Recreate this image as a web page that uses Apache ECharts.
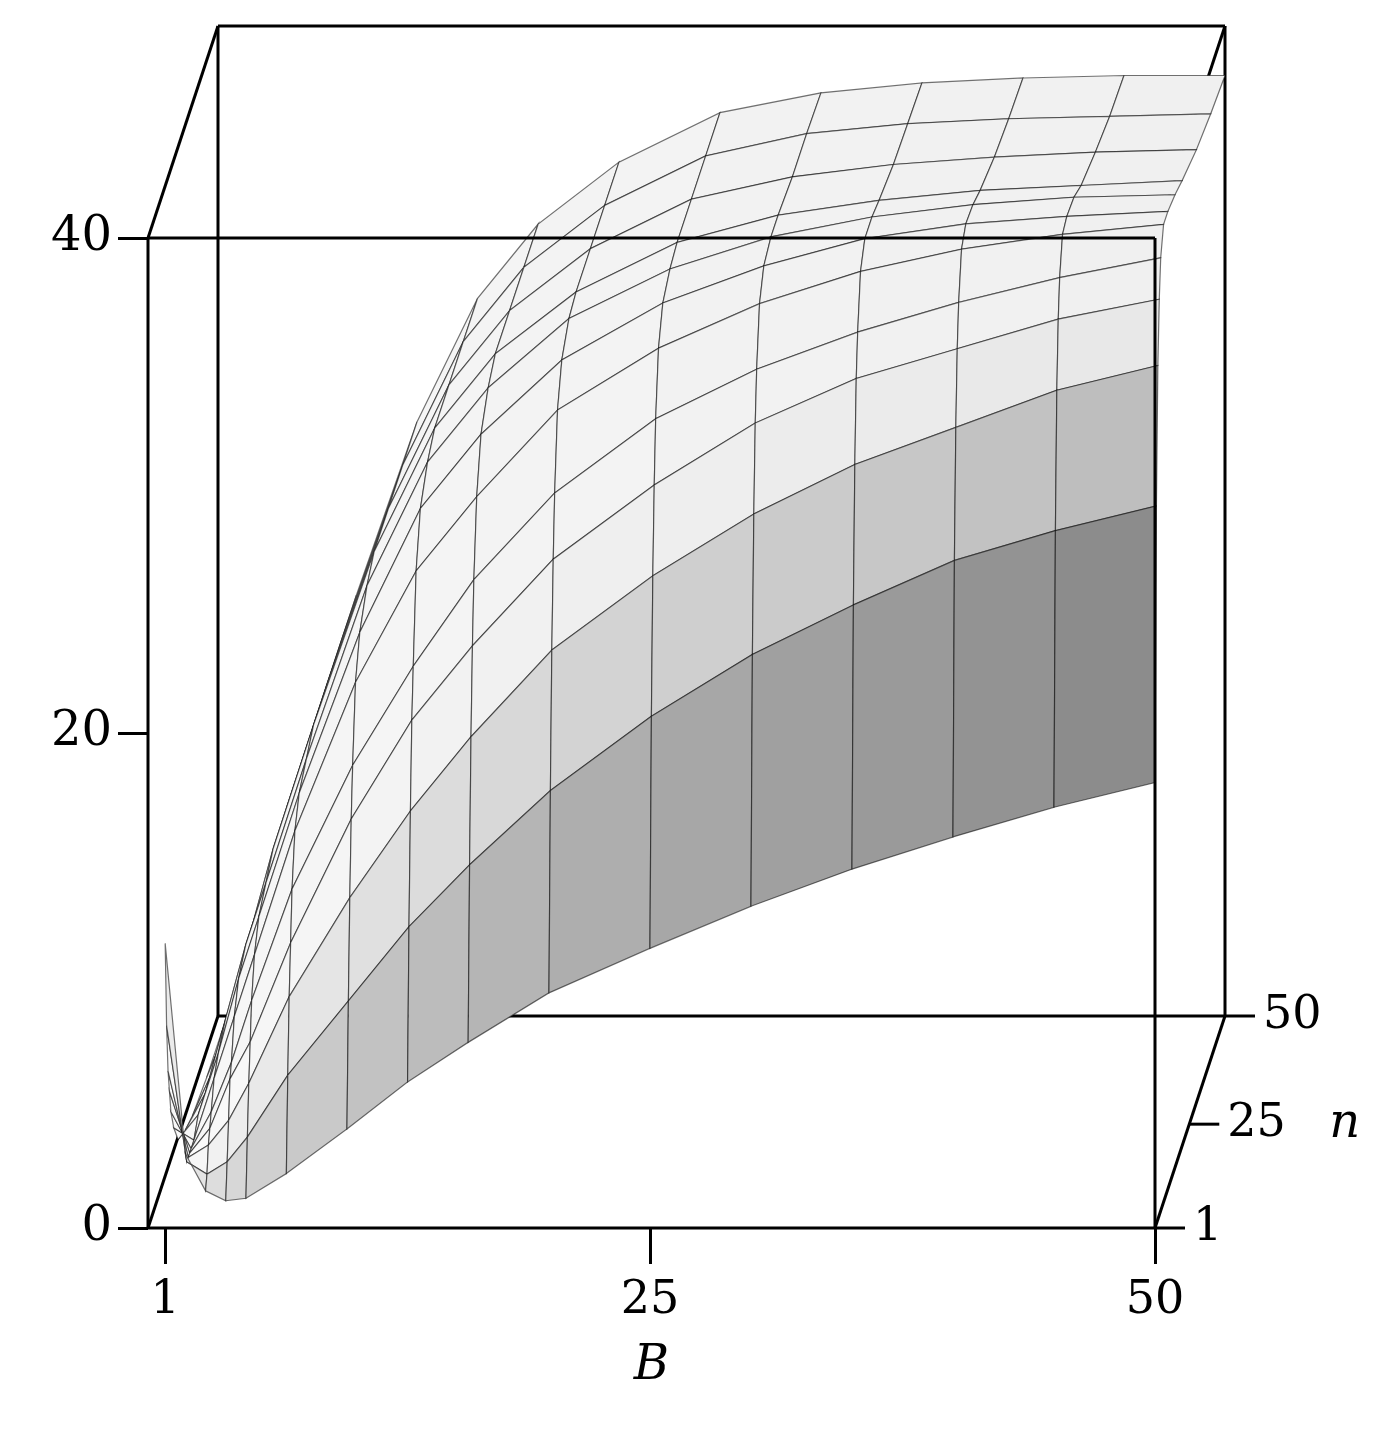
<!DOCTYPE html>
<html><head><meta charset="utf-8">
<script src="https://cdn.jsdelivr.net/npm/echarts@6/dist/echarts.min.js"></script>
<style>html,body{margin:0;padding:0;background:#fff}#c{width:1389px;height:1438px}</style>
</head><body><div id="c"></div>
<script>
const B = [1,2,3,4,5,7,10,13,16,20,25,30,35,40,45,50];
const N = [1,2,3,4,5,7,10,15,20,30,40,50];
const Z = [
 [11.5,3,1.5,1.1,1.2,2.2,4,5.9,7.5,9.5,11.3,13,14.5,15.8,17,18],
 [8,2.5,2,2.5,3.5,6,9,12,14.5,17.5,20.5,23,25,26.8,28,29],
 [6,2.5,3,4,5.5,9,13,16.5,19.5,23,26,28.5,30.5,32,33.5,34.5],
 [5,2.5,3.5,5.5,7,11,16,20,23,26.5,29.5,32,33.8,35,36.2,37],
 [4,2.5,4,6,8.5,13,18,22,25.5,29,32,34,35.5,36.7,37.7,38.5],
 [3,2.5,5,7.5,10,15,21,25.5,28.5,32,34.5,36.3,37.6,38.5,39.1,39.5],
 [2,3,5.5,8.5,11,16,22.5,27.5,30.5,33.5,35.8,37.3,38.4,39,39.3,39.5],
 [1.5,3,6,9,11.5,16.5,23.5,28.5,31.5,34.3,36.3,37.6,38.4,38.9,39.2,39.3],
 [1.2,3,6,9,12,17,24,29,32,34.5,36.5,37.6,38.2,38.6,38.8,39],
 [1,3,6,9,12,17,24,29,32,34.5,36.5,37.4,37.9,38.2,38.4,38.5],
 [1,3,6,9,12,17,24,29,32,34.5,36.5,37.4,37.8,38,38.1,38.2],
 [1,3,6,9,12,17,24,29,32,34.5,36.5,37.3,37.7,37.9,38,38]
];
const zTicks = [0,20,40];
const bTicks = [1,25,50];
const nTicks = [1,25,50];
const BMIN = 0.15, BMAX = 50, NMIN = 1, NMAX = 50, ZMAX = 40;
const DX = 70, DY = -212;
const FONT = 'DejaVu Serif';

const cells = [];
for (let ni = N.length - 2; ni >= 0; ni--)
  for (let bi = 0; bi < B.length - 1; bi++) cells.push([bi, ni]);

function proj(api, b, n, z) {
  const p = api.coord([b, z]);
  const f = (n - NMIN) / (NMAX - NMIN);
  return [p[0] + DX * f, p[1] + DY * f];
}
function shade(bi, ni) {
  const t = bi / (B.length - 2);
  let g;
  if (ni === 0) g = 235 - 95 * t;
  else if (ni === 1) g = 250 - 60 * t;
  else if (ni === 2) g = 252 - 20 * t;
  else g = 248 - 8 * t;
  g = Math.round(g);
  return 'rgb(' + g + ',' + g + ',' + g + ')';
}
const L = {stroke: '#000', lineWidth: 3};
function line(a, b2) { return {type: 'line', shape: {x1: a[0], y1: a[1], x2: b2[0], y2: b2[1]}, style: L}; }

const chart = echarts.init(document.getElementById('c'));
chart.setOption({
  animation: false,
  grid: {left: 148, right: 234, top: 238, bottom: 210},
  xAxis: {type: 'value', min: BMIN, max: BMAX, splitLine: {show: false}, axisLine: {show: false},
    axisTick: {show: true, customValues: bTicks, length: 36, lineStyle: {color: '#000', width: 3}},
    axisLabel: {customValues: bTicks, margin: 50, fontFamily: FONT, fontSize: 46, color: '#000'},
    name: 'B', nameLocation: 'middle', nameGap: 115,
    nameTextStyle: {fontFamily: FONT, fontStyle: 'italic', fontSize: 48, color: '#000'}},
  yAxis: {type: 'value', min: 0, max: ZMAX, interval: 20, splitLine: {show: false}, axisLine: {show: false},
    axisTick: {show: true, length: 30, lineStyle: {color: '#000', width: 3}},
    axisLabel: {margin: 36, fontFamily: FONT, fontSize: 48, color: '#000'}},
  series: [
    {type: 'custom', clip: false, z: 1, data: [[0]], renderItem: function (params, api) {
      const c = (b, n, z) => proj(api, b, n, z);
      return {type: 'group', children: [
        line(c(BMIN, NMAX, 0), c(BMAX, NMAX, 0)),
        line(c(BMIN, NMAX, 0), c(BMIN, NMAX, ZMAX)),
        line(c(BMIN, NMAX, ZMAX), c(BMAX, NMAX, ZMAX)),
        line(c(BMAX, NMAX, 0), c(BMAX, NMAX, ZMAX)),
        line(c(BMIN, NMIN, 0), c(BMIN, NMAX, 0)),
        line(c(BMIN, NMIN, ZMAX), c(BMIN, NMAX, ZMAX)),
        line(c(BMAX, NMIN, ZMAX), c(BMAX, NMAX, ZMAX)),
        line(c(BMIN, NMIN, 0), c(BMIN, NMIN, ZMAX))
      ]};
    }},
    {type: 'custom', clip: false, z: 2, data: cells, renderItem: function (params, api) {
      const bi = api.value(0), ni = api.value(1);
      const pts = [
        proj(api, B[bi], N[ni], Z[ni][bi]),
        proj(api, B[bi + 1], N[ni], Z[ni][bi + 1]),
        proj(api, B[bi + 1], N[ni + 1], Z[ni + 1][bi + 1]),
        proj(api, B[bi], N[ni + 1], Z[ni + 1][bi])
      ];
      return {type: 'polygon', shape: {points: pts},
        style: {fill: shade(bi, ni), stroke: 'rgba(0,0,0,0.55)', lineWidth: 1.2}};
    }},
    {type: 'custom', clip: false, z: 3, data: [[0]], renderItem: function (params, api) {
      const c = (b, n, z) => proj(api, b, n, z);
      const ch = [
        line(c(BMIN, NMIN, 0), c(BMAX, NMIN, 0)),
        line(c(BMIN, NMIN, ZMAX), c(BMAX, NMIN, ZMAX)),
        line(c(BMAX, NMIN, 0), c(BMAX, NMIN, ZMAX)),
        line(c(BMAX, NMIN, 0), c(BMAX, NMAX, 0))
      ];
      nTicks.forEach(function (n) {
        const p = c(BMAX, n, 0);
        ch.push(line(p, [p[0] + 30, p[1]]));
        ch.push({type: 'text', x: p[0] + 38, y: p[1], style: {text: String(n), fontFamily: FONT, fontSize: 46,
          fill: '#000', verticalAlign: 'middle', align: 'left'}});
      });
      const pm = c(BMAX, 25, 0);
      ch.push({type: 'text', x: pm[0] + 140, y: pm[1], style: {text: 'n', fontFamily: FONT, fontStyle: 'italic',
        fontSize: 48, fill: '#000', verticalAlign: 'middle', align: 'left'}});
      return {type: 'group', children: ch};
    }}
  ]
});
</script></body></html>
